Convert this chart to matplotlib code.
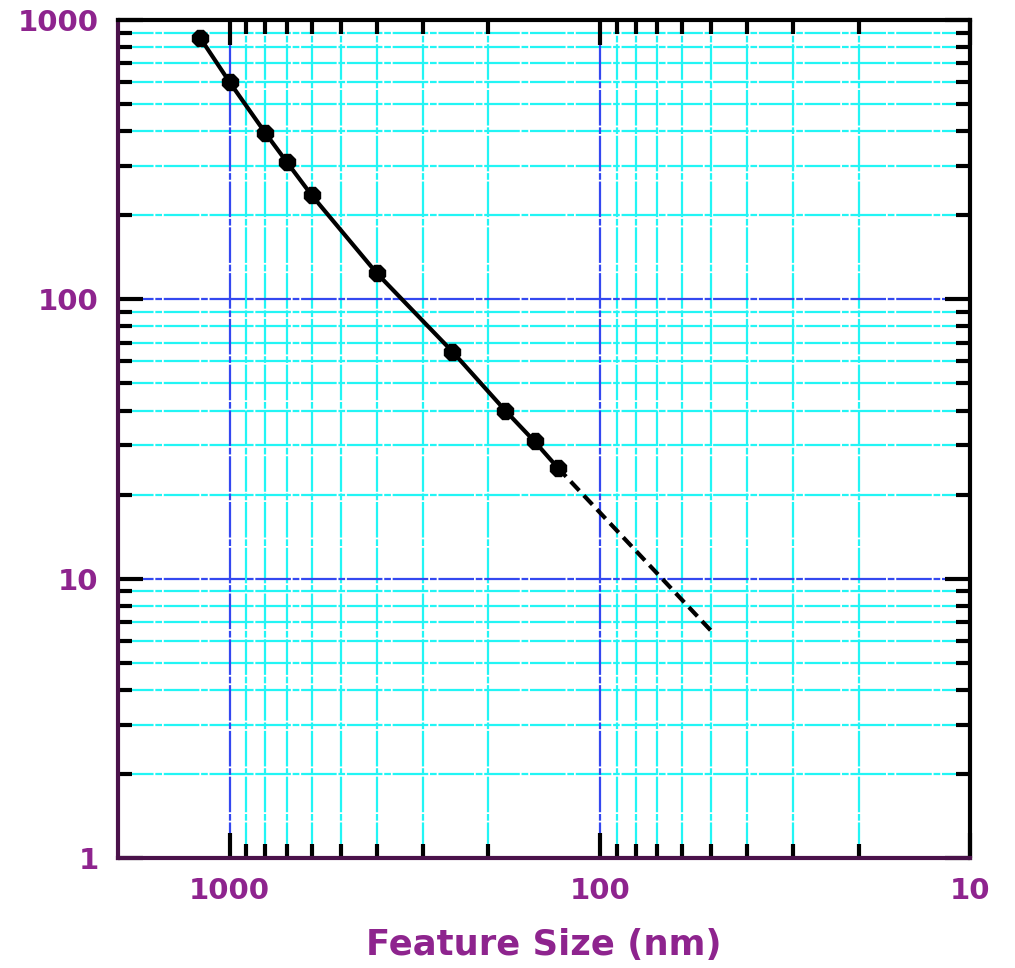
import matplotlib
matplotlib.use("Agg")
import matplotlib.pyplot as plt
from matplotlib.ticker import FixedLocator, NullFormatter, FixedFormatter

# Measured points (feature size in nm, value)
feature_size = [1200, 1000, 800, 700, 600, 400, 250, 180, 150, 130]
values = [863, 600, 394, 310, 236, 124, 65, 40, 31, 25]

# Extrapolated trend (dashed)
extrap_size = [130, 50]
extrap_values = [25, 6.5]

x_major = [1000, 100, 10]
x_major_labels = ["1000", "100", "10"]
x_minor = [900, 800, 700, 600, 500, 400, 300, 200, 90, 80, 70, 60, 50, 40, 30, 20]
y_major = [1, 10, 100, 1000]
y_major_labels = ["1", "10", "100", "1000"]
y_minor = [m * d for d in (1, 10, 100) for m in range(2, 10)]

PURPLE = "#8e248e"
SPINE_PURPLE = "#4a124a"
CYAN = "#22f5f5"
BLUE = "#3348f0"
GRID_DASH = (0, (16, 0.8, 3, 0.8))

fig = plt.figure(figsize=(10.15, 9.68), dpi=100)
ax = fig.add_axes([0.1163, 0.1136, 0.8394, 0.8657])

ax.set_xscale("log")
ax.set_yscale("log")
ax.set_xlim(2000, 10)
ax.set_ylim(1, 1000)

# grid lines drawn by hand from the tick values
for v in x_minor:
    ax.axvline(v, color=CYAN, lw=1.6, ls=GRID_DASH, zorder=1)
for v in y_minor:
    ax.axhline(v, color=CYAN, lw=1.6, ls=GRID_DASH, zorder=1)
for v in [1000, 100]:
    ax.axvline(v, color=BLUE, lw=1.6, ls=GRID_DASH, zorder=1.5)
for v in [100, 10]:
    ax.axhline(v, color=BLUE, lw=1.6, ls=GRID_DASH, zorder=1.5)

ax.plot(feature_size, values, color="black", lw=3, marker="8", ms=13, zorder=3)
ax.plot(extrap_size, extrap_values, color="black", lw=3, ls=(0, (3, 1.6)), zorder=3)

ax.xaxis.set_major_locator(FixedLocator(x_major))
ax.xaxis.set_major_formatter(FixedFormatter(x_major_labels))
ax.xaxis.set_minor_locator(FixedLocator(x_minor))
ax.xaxis.set_minor_formatter(NullFormatter())
ax.yaxis.set_major_locator(FixedLocator(y_major))
ax.yaxis.set_major_formatter(FixedFormatter(y_major_labels))
ax.yaxis.set_minor_locator(FixedLocator(y_minor))
ax.yaxis.set_minor_formatter(NullFormatter())

ax.tick_params(which="both", direction="in", top=True, right=True, color="black")
ax.tick_params(which="major", length=18, width=3, labelsize=21, labelcolor=PURPLE, pad=14)
ax.tick_params(which="minor", length=10, width=3)
for lab in ax.get_xticklabels() + ax.get_yticklabels():
    lab.set_fontweight("bold")

for side in ["top", "right"]:
    ax.spines[side].set_color("black")
    ax.spines[side].set_linewidth(3)
for side in ["left", "bottom"]:
    ax.spines[side].set_color(SPINE_PURPLE)
    ax.spines[side].set_linewidth(3)
for s in ax.spines.values():
    s.set_zorder(4)

ax.set_xlabel("Feature Size (nm)", fontsize=25.5, fontweight="bold", color=PURPLE, labelpad=16)

fig.savefig("out.png", dpi=100)
